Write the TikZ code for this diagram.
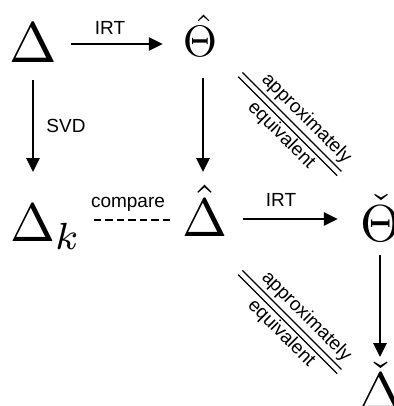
\documentclass[tikz,border=0pt]{standalone}
\usepackage{graphicx}
\usepackage{fontspec}
\newfontfamily\labfont{Liberation Sans}
\usetikzlibrary{arrows.meta,calc}

\begin{document}
\begin{tikzpicture}[x=1pt,y=-1pt,
  sym/.style={inner sep=0pt, outer sep=0pt, anchor=base},
  lab/.style={font=\labfont\fontsize{19}{19}\selectfont, inner sep=0pt, outer sep=0pt},
  arr/.style={line width=2.8pt, -{Triangle[length=14pt,width=13pt]}},
  cmp/.style={line width=2.8pt, dash pattern=on 7.5pt off 4pt},
  eqline/.style={line width=1.3pt},
]
\useasboundingbox (0,0) rectangle (393,406);
\clip (0,0) rectangle (393,406);

% the six quantities
\node[sym] (D)  at (33,63)  {\scalebox{5.7}{$\Delta$}};
\node[sym] (TH) at (200,57) {\scalebox{4.4}{$\skew{3}{\hat}{\Theta}$}};
\node[sym,anchor=base west] (DK) at (10,241) {\scalebox{5.4}{$\Delta_k$}};
\node[sym] (DH) at (205,236) {\scalebox{5.4}{$\hat{\Delta}$}};
\node[sym] (TC) at (381,241) {\scalebox{5.2}{$\check{\Theta}$}};
\node[sym] (DC) at (381,410) {\scalebox{5.4}{$\check{\Delta}$}};

% arrows
\draw[arr] ($(D.base east)+(14,-19)$) -- ($(TH.base west)+(-20,-13)$);
\draw[arr] ($(D.south)+(0,17)$) -- ($(D.south |- DK.north)+(0,-32)$);
\draw[arr] ($(TH.south)+(3,21)$) -- ($(TH.south |- DH.base)+(3,-64)$);
\draw[arr] ($(DH.base east)+(15.5,-17)$) -- ($(TC.base west)+(-23,-22)$);
\draw[arr] ($(TC.base)+(-1,14)$) -- ($(DC.base)+(-1,-53)$);
\draw[cmp] ($(DK.base east)+(12,-21)$) -- ($(DH.base west)+(-10.5,-16)$);

% labels
\node[lab] (irt1) at (110,28) {IRT};
\node[lab] (svd)  at (66,126) {SVD};
\node[lab] (cmpl) at (128,204) {compare};
\node[lab] (irt2) at (281,200) {IRT};

% "approximately equivalent" marks
\foreach \cy/\nm in {124/1, 322/2} {
  \begin{scope}[shift={(289.75,\cy)}, rotate=-45]
    \draw[eqline] (-70pt,3pt) -- (70pt,3pt);
    \draw[eqline] (-70pt,-3pt) -- (70pt,-3pt);
    \node[lab, rotate=-45, anchor=base] (apx\nm) at (8pt,10.5pt) {approximately};
    \node[lab, rotate=-45, anchor=base] (eqv\nm) at (2pt,-19pt) {equivalent};
  \end{scope}
}
\end{tikzpicture}
\end{document}
